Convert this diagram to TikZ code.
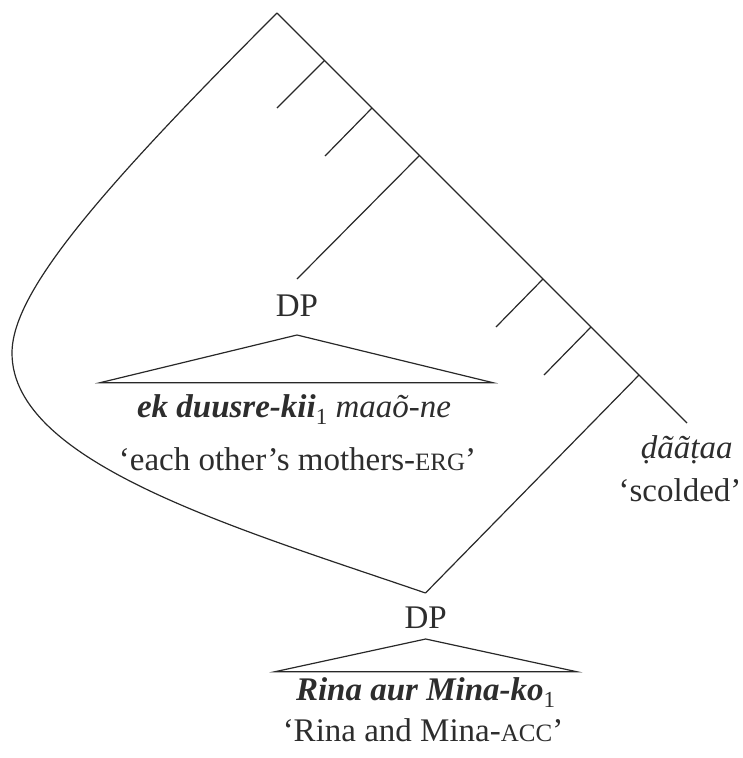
\documentclass[tikz,border=0pt]{standalone}
\usepackage{fontspec}
\setmainfont{Liberation Serif}
\definecolor{lc}{RGB}{40,40,40}
\definecolor{tc}{RGB}{45,45,45}
\newcommand\fsc[1]{{\fontsize{25}{30}\selectfont #1}}
\newcommand\subone{\raisebox{-0.22em}{\fontsize{23}{23}\selectfont 1}}
\begin{document}
\begin{tikzpicture}[x=1pt,y=-1pt,
  ln/.style={draw=lc, line width=1.2pt},
  txt/.style={inner sep=0pt, anchor=base, font=\fontsize{33}{40}\selectfont, text=tc}]
\useasboundingbox (0,0) rectangle (743,758);
% spine
\coordinate (root) at (277,13);
\coordinate (s1) at (324.5,60.5);
\coordinate (s2) at (372,108);
\coordinate (s3) at (419.5,155.5);
\coordinate (s4) at (543,279);
\coordinate (s5) at (591,327);
\coordinate (s6) at (639,375);
\coordinate (v) at (687,423);
\coordinate (b1) at (277,108);
\coordinate (b2) at (325,156);
\coordinate (b3) at (297,279);
\coordinate (b4) at (496,327);
\coordinate (b5) at (544,375);
\coordinate (dptop) at (425.5,593);
\coordinate (lm) at (12,353);
\draw[ln] (root) -- (v);
\draw[ln] (s1) -- (b1);
\draw[ln] (s2) -- (b2);
\draw[ln] (s3) -- (b3);
\draw[ln] (s4) -- (b4);
\draw[ln] (s5) -- (b5);
\draw[ln] (s6) -- (dptop);
% movement curve
\draw[ln] (root) .. controls (97,193) and (12,293) .. (lm)
               .. controls (12,463) and (236,528) .. (dptop);
% DP 1
\node[txt] (dp1) at (297,316.5) {DP};
\coordinate (t1a) at (297,335);
\coordinate (t1l) at (100,382.7);
\coordinate (t1r) at (493,382.7);
\draw[ln] (t1a) -- (t1l) -- (t1r) -- cycle;
\node[txt] (w1) at (294,417) {\textbf{\textit{ek duusre-kii}}\subone\ \textit{maaõ-ne}};
\node[txt] (g1) at (297.5,470.7) {`each other's mothers-\fsc{ERG}'};
% verb
\node[txt] (verb) at (686.7,458.3) {\textit{ḍããṭaa}};
\node[txt] (vg) at (680,501.7) {`scolded'};
% DP 2
\node[txt] (dp2) at (425.7,628) {DP};
\coordinate (t2a) at (425.7,639);
\coordinate (t2l) at (275,671.7);
\coordinate (t2r) at (576.7,671.7);
\draw[ln] (t2a) -- (t2l) -- (t2r) -- cycle;
\node[txt] (w2) at (425.6,700) {\textbf{\textit{Rina aur Mina-ko}}\subone};
\node[txt] (g2) at (423,741.7) {`Rina and Mina-\fsc{ACC}'};
\end{tikzpicture}
\end{document}
